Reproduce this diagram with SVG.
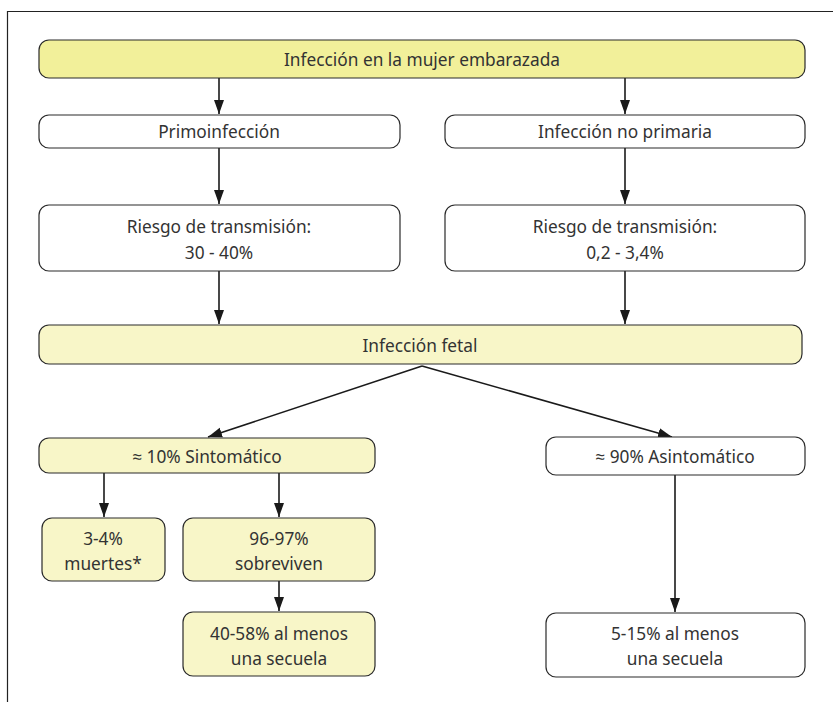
<svg xmlns="http://www.w3.org/2000/svg" width="833" height="702" viewBox="0 0 833 702">
  <defs>
    <marker id="arrow" viewBox="0 0 14 10" refX="14" refY="5" markerWidth="14" markerHeight="11" markerUnits="userSpaceOnUse" orient="auto">
      <path d="M0,0 L14,5 L0,10 Z" fill="#1a1a1a"/>
    </marker>
  </defs>
  <style>
    .box { stroke: #2a2a2a; stroke-width: 1.2; }
    .strong { fill: #f2f09a; }
    .pale { fill: #f8f6c8; }
    .plain { fill: #ffffff; }
    text { font-family: "Noto Sans", "Open Sans", sans-serif; font-size: 17.3px; fill: #333333; text-anchor: middle; dominant-baseline: central; }
    .edge { stroke: #1a1a1a; stroke-width: 1.6; fill: none; marker-end: url(#arrow); }
    .frame { stroke: #222222; stroke-width: 1.2; fill: none; }
  </style>
  <rect width="833" height="702" fill="#ffffff"/>
  <path class="frame" d="M7.5,702 V11.5 H833"/>

  <g id="connectors">
    <line class="edge" x1="219" y1="78" x2="219" y2="114"/>
    <line class="edge" x1="625" y1="78" x2="625" y2="114"/>
    <line class="edge" x1="219" y1="148" x2="219" y2="204"/>
    <line class="edge" x1="625" y1="148" x2="625" y2="204"/>
    <line class="edge" x1="219" y1="271" x2="219" y2="324"/>
    <line class="edge" x1="625" y1="271" x2="625" y2="324"/>
    <line class="edge" x1="422" y1="366" x2="208" y2="437"/>
    <line class="edge" x1="422" y1="366" x2="672" y2="437"/>
    <line class="edge" x1="104" y1="473" x2="104" y2="517"/>
    <line class="edge" x1="279" y1="473" x2="279" y2="517"/>
    <line class="edge" x1="279" y1="581" x2="279" y2="611"/>
    <line class="edge" x1="675" y1="475" x2="675" y2="612"/>
  </g>

  <g id="infeccion-mujer">
    <rect class="box strong" x="39" y="40" width="766" height="38" rx="10"/>
    <text x="422" y="59">Infección en la mujer embarazada</text>
  </g>
  <g id="primoinfeccion">
    <rect class="box plain" x="39" y="115" width="361" height="33" rx="10"/>
    <text x="219" y="131">Primoinfección</text>
  </g>
  <g id="no-primaria">
    <rect class="box plain" x="445" y="115" width="360" height="33" rx="10"/>
    <text x="625" y="131">Infección no primaria</text>
  </g>
  <g id="riesgo-primo">
    <rect class="box plain" x="39" y="205" width="361" height="66" rx="10"/>
    <text x="219" y="226">Riesgo de transmisión:</text>
    <text x="219" y="252">30 - 40%</text>
  </g>
  <g id="riesgo-no-primaria">
    <rect class="box plain" x="445" y="205" width="360" height="66" rx="10"/>
    <text x="625" y="226">Riesgo de transmisión:</text>
    <text x="625" y="252">0,2 - 3,4%</text>
  </g>
  <g id="infeccion-fetal">
    <rect class="box pale" x="39" y="325" width="763" height="39" rx="10"/>
    <text x="420" y="345">Infección fetal</text>
  </g>
  <g id="sintomatico">
    <rect class="box pale" x="39" y="438" width="336" height="35" rx="10"/>
    <text x="207" y="456">≈ 10% Sintomático</text>
  </g>
  <g id="asintomatico">
    <rect class="box plain" x="546" y="437" width="259" height="38" rx="10"/>
    <text x="675" y="456">≈ 90% Asintomático</text>
  </g>
  <g id="muertes">
    <rect class="box pale" x="42" y="518" width="123" height="63" rx="10"/>
    <text x="103" y="538">3-4%</text>
    <text x="103" y="563">muertes*</text>
  </g>
  <g id="sobreviven">
    <rect class="box pale" x="183" y="518" width="192" height="63" rx="10"/>
    <text x="279" y="538">96-97%</text>
    <text x="279" y="563">sobreviven</text>
  </g>
  <g id="secuela-sintomatico">
    <rect class="box pale" x="183" y="612" width="192" height="64" rx="10"/>
    <text x="279" y="633">40-58% al menos</text>
    <text x="279" y="658">una secuela</text>
  </g>
  <g id="secuela-asintomatico">
    <rect class="box plain" x="546" y="613" width="259" height="64" rx="10"/>
    <text x="675" y="633">5-15% al menos</text>
    <text x="675" y="658">una secuela</text>
  </g>
</svg>
